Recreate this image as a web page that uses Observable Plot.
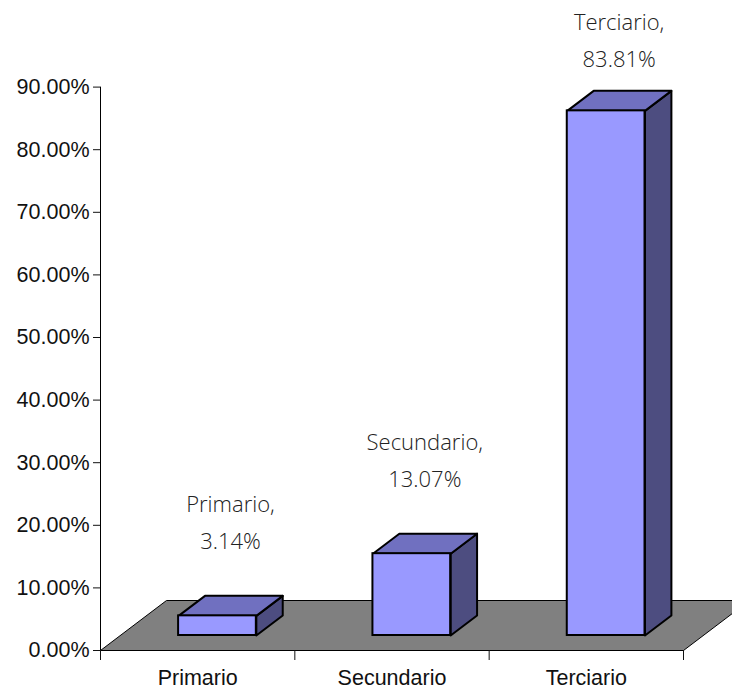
<!DOCTYPE html>
<html><head><meta charset="utf-8">
<script src="https://cdn.jsdelivr.net/npm/d3@7"></script>
<script src="https://cdn.jsdelivr.net/npm/@observablehq/plot@0.6"></script>
<style>html,body{margin:0;padding:0;background:#fff;overflow:hidden}</style>
</head><body><div id="chart"></div>
<script>
// ---- data ----
const categories = ["Primario", "Secundario", "Terciario"];
const values = [3.14, 13.07, 83.81];
const yTicks = [0, 10, 20, 30, 40, 50, 60, 70, 80, 90];

// ---- layout ----
const W = 732, H = 689, mL = 100, mR = 49, mT = 86.6, mB = 39;
const pxX = (W - mL - mR) / categories.length;   // px per category unit
const pxY = (H - mT - mB) / 90;                    // px per percent
const depth = [66, -50];                           // floor depth vector (px)
const front = 0.3, back = 0.7;                     // bars occupy this depth slice
const ddx = (back - front) * depth[0] / pxX;
const ddy = -(back - front) * depth[1] / pxY;
const fdx = front * depth[0], fdy = front * depth[1];
const halfW = 0.2;

const floor = [[0, 0], [3, 0], [3 + depth[0] / pxX, -depth[1] / pxY], [depth[0] / pxX, -depth[1] / pxY], [0, 0]]
  .map(([x, y]) => ({x, y}));

const bars = categories.map((c, i) => ({cat: c, v: values[i], x1: i + 0.5 - halfW, x2: i + 0.5 + halfW, xc: i + 0.5}));
const sides = bars.flatMap(b => [[b.x2, 0], [b.x2, b.v], [b.x2 + ddx, b.v + ddy], [b.x2 + ddx, ddy], [b.x2, 0]]
  .map(([x, y]) => ({cat: b.cat, x, y})));
const tops = bars.flatMap(b => [[b.x1, b.v], [b.x2, b.v], [b.x2 + ddx, b.v + ddy], [b.x1 + ddx, b.v + ddy], [b.x1, b.v]]
  .map(([x, y]) => ({cat: b.cat, x, y})));
const labels = bars.map(b => ({
  x: b.xc,
  y: Math.min(b.v + 112 / pxY, (H - mB - 36) / pxY),
  text: `${b.cat},\n${b.v.toFixed(2)}%`
}));

const chart = Plot.plot({
  width: W, height: H,
  marginLeft: mL, marginRight: mR, marginTop: mT, marginBottom: mB,
  x: {type: "linear", domain: [0, 3]},
  y: {domain: [0, 90]},
  style: {fontFamily: "'Liberation Sans', Arial, sans-serif", fontSize: "21.5px", color: "#111", background: "white"},
  marks: [
    Plot.line(floor, {x: "x", y: "y", fill: "#808080", stroke: "black", strokeWidth: 1}),
    Plot.line(sides, {x: "x", y: "y", z: "cat", fill: "#4d4d80", stroke: "black", strokeWidth: 2, dx: fdx, dy: fdy}),
    Plot.line(tops, {x: "x", y: "y", z: "cat", fill: "#7070c0", stroke: "black", strokeWidth: 2, dx: fdx, dy: fdy}),
    Plot.rect(bars, {x1: "x1", x2: "x2", y1: 0, y2: "v", fill: "#9999ff", stroke: "black", strokeWidth: 2, dx: fdx, dy: fdy}),
    Plot.ruleX([0], {y1: 0, y2: 90, stroke: "black"}),
    Plot.ruleY([0], {x1: 0, x2: 3, stroke: "black"}),
    Plot.axisY({ticks: yTicks, tickFormat: d => d.toFixed(2) + "%", tickSize: 7, tickPadding: 4, label: null, fontSize: 21.5, fontWeight: "normal"}),
    Plot.axisX({ticks: [0, 1, 2, 3], tickFormat: () => "", tickSize: 10, label: null}),
    Plot.axisX({ticks: [0.5, 1.5, 2.5], tickFormat: d => categories[Math.floor(d)], tickSize: 0, tickPadding: 19, label: null, fontSize: 21.5, fontWeight: "normal"}),
    Plot.text(labels, {x: "x", y: "y", text: "text", dx: fdx + 13, lineHeight: 1.68, lineAnchor: "middle",
      fontSize: 22, fontFamily: "'Open Sans', sans-serif", fontWeight: 300, fill: "#222"})
  ]
});
document.getElementById("chart").appendChild(chart);
</script></body></html>
